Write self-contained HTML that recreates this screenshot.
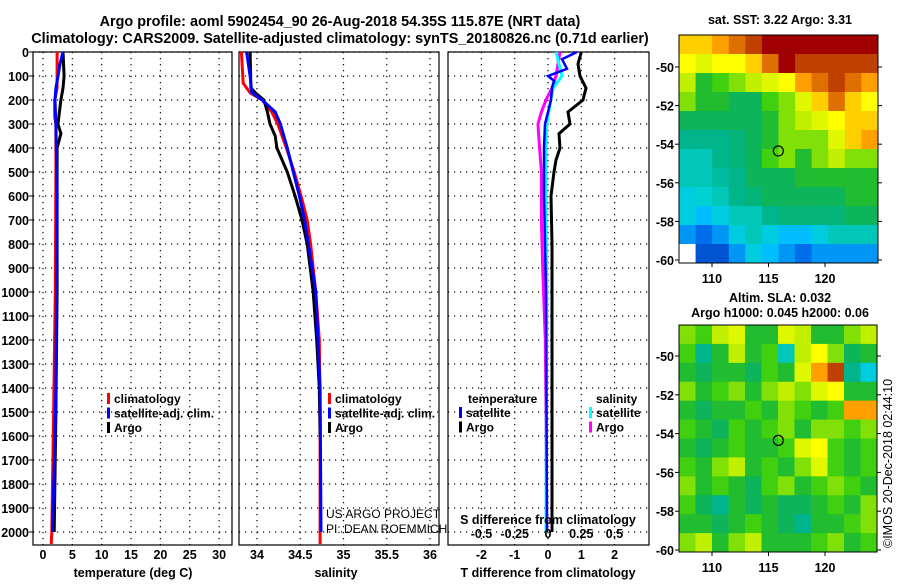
<!DOCTYPE html>
<html><head><meta charset="utf-8"><style>
body{margin:0;background:#fff;}
svg text{font-family:"Liberation Sans",sans-serif;font-weight:bold;fill:#000;}
</style></head><body>
<svg id="c" width="900" height="580" xmlns="http://www.w3.org/2000/svg">
<text x="340" y="26" font-size="14.4" text-anchor="middle">Argo profile: aoml 5902454_90 26-Aug-2018 54.35S 115.87E (NRT data)</text>
<text x="340" y="43" font-size="14.4" text-anchor="middle">Climatology: CARS2009. Satellite-adjusted climatology: synTS_20180826.nc (0.71d earlier)</text>
<text x="780" y="24" font-size="12.5" text-anchor="middle">sat. SST: 3.22 Argo: 3.31</text>
<text x="780" y="302" font-size="12.5" text-anchor="middle">Altim. SLA: 0.032</text>
<text x="780" y="317" font-size="12.5" text-anchor="middle">Argo h1000: 0.045 h2000: 0.06</text>
<text transform="translate(892,548) rotate(-90)" font-size="12.5" style="font-weight:normal">©IMOS 20-Dec-2018 02:44:10</text>
<g id="g"></g>
</svg>
<script>
// ---- depth axis
const depthTicks=[0,100,200,300,400,500,600,700,800,900,1000,1100,1200,1300,1400,1500,1600,1700,1800,1900,2000];
// ---- temperature panel
const tTicks=[0,5,10,15,20,25,30];
const tClimDepth=[0,150,200,270,300,500,1000,1500,2000,2050];
const tClim=[2.4,2.4,2.0,2.0,2.2,2.2,2.1,1.8,1.5,1.4];
const tSatDepth=[0,50,100,150,200,300,600,1000,1400,1700,2000];
const tSat=[3.4,2.9,2.55,2.2,2.05,2.2,2.4,2.3,2.2,1.95,1.6];
const tArgoDepth=[0,100,150,200,300,340,400,600,1000,1500,2000];
const tArgo=[3.4,3.6,3.4,3.05,2.55,3.05,2.4,2.4,2.4,2.2,1.9];
// ---- salinity panel
const sTicks=[34,34.5,35,35.5,36];
const sClimDepth=[0,130,170,200,250,300,400,500,600,700,800,1000,1200,1500,2050];
const sClim=[33.82,33.84,33.92,34.06,34.17,34.24,34.34,34.43,34.51,34.58,34.62,34.68,34.72,34.73,34.73];
const sSatDepth=[0,100,170,200,250,300,400,500,600,700,1000,1400,2000];
const sSat=[33.88,33.92,33.94,34.06,34.21,34.27,34.35,34.42,34.49,34.55,34.68,34.73,34.74];
const sArgoDepth=[0,150,170,200,250,300,350,400,500,600,700,800,1000,1200,1400,1600];
const sArgo=[33.92,33.93,33.98,34.08,34.12,34.15,34.21,34.23,34.35,34.44,34.52,34.58,34.65,34.69,34.72,34.73];
// ---- difference panel
const dTTicks=[-2,-1,0,1,2];
const dSTicks=[-0.5,-0.25,0,0.25,0.5];
const dSTickLabels=["-0.5","-0.25","0","0.25","0.5"];
const dTArgoDepth=[0,50,100,150,200,250,300,340,400,450,500,600,800,1000,1600,2000];
const dTArgo=[1.0,0.9,0.96,1.14,1.05,0.6,0.66,0.33,0.36,0.24,0.18,0.09,0.12,0.12,0.12,0.12];
const dTSatDepth=[0,30,70,100,120,150,200,300,400,600,800,1000,2000];
const dTSat=[0.87,0.42,0.57,0,0.18,0.12,0.09,-0.09,-0.12,-0.12,-0.09,-0.06,-0.03];
const dSSatDepth=[0,100,150,200,300,400,600,1000,2000];
const dSSat=[0.06,0.105,0.04,0.02,-0.01,-0.015,-0.015,-0.01,-0.015];
const dSArgoDepth=[0,100,150,200,250,300,350,500,700,900,1200,1500,2000];
const dSArgo=[0.09,0.06,0.03,-0.015,-0.05,-0.075,-0.07,-0.05,-0.05,-0.04,-0.02,-0.015,-0.01];
// ---- maps
const lonTicks=[110,115,120];
const latTicks=[-50,-52,-54,-56,-58,-60];
const sstGrid=[
[.8,.8,.85,.9,.95,1,1,1,1,1,1,1],
[.75,.7,.75,.75,.8,.9,1,.95,.95,.95,.95,.95],
[.65,.5,.55,.6,.65,.7,.75,.85,.9,.95,.9,.85],
[.6,.5,.5,.45,.45,.55,.6,.7,.8,.9,.8,.75],
[.45,.45,.45,.45,.45,.5,.6,.65,.7,.75,.8,.8],
[.4,.4,.4,.42,.45,.5,.6,.6,.6,.7,.8,.85],
[.35,.35,.4,.42,.45,.55,.6,.5,.6,.65,.6,.6],
[.35,.35,.38,.4,.45,.45,.45,.5,.5,.5,.5,.5],
[.3,.32,.35,.4,.42,.45,.45,.45,.45,.45,.5,.5],
[.3,.25,.3,.35,.35,.4,.42,.42,.42,.42,.45,.45],
[.2,.15,.2,.3,.35,.3,.25,.25,.3,.35,.35,.35],
[-1,.1,.1,.2,.3,.25,.2,.15,.2,.2,.2,.2]];
const slaGrid=[
[.6,.55,.65,.7,.5,.5,.7,.65,.5,.5,.6,.65],
[.55,.4,.5,.65,.5,.55,.35,.65,.75,.6,.45,.5],
[.5,.45,.5,.5,.45,.55,.5,.7,.85,.95,.4,.3],
[.6,.5,.55,.6,.5,.6,.65,.6,.7,.75,.5,.5],
[.5,.45,.5,.5,.55,.5,.6,.55,.5,.55,.85,.85],
[.55,.5,.45,.55,.5,.55,.6,.5,.6,.6,.55,.6],
[.5,.45,.5,.55,.5,.5,.55,.7,.75,.55,.5,.55],
[.55,.5,.6,.65,.5,.55,.5,.6,.7,.55,.5,.55],
[.6,.5,.55,.5,.45,.55,.6,.5,.55,.6,.55,.5],
[.55,.45,.4,.5,.45,.5,.45,.45,.5,.55,.5,.6],
[.5,.5,.45,.5,.55,.5,.45,.4,.5,.5,.55,.6],
[.6,.65,.5,.6,.65,.5,.5,.5,.55,.6,.5,.55]];
const floatLon=115.87, floatLat=-54.35;

const NS="http://www.w3.org/2000/svg";
const G=document.getElementById('g');
function el(t,a,p){const e=document.createElementNS(NS,t);for(const k in a)e.setAttribute(k,a[k]);(p||G).appendChild(e);return e;}
const yD=d=>52+d*0.24;
const PT={l:33,r:232}, PS={l:239,r:439}, PD={l:448,r:649};
const xT=v=>43+v*5.87, xS=v=>257+(v-34)*86.5, xDT=v=>548+v*33.3, xDS=v=>548+v*133;
const TOP=52,BOT=545;

function panel(P,name,vx,vt){
  const g=el('g',{});
  
  
  depthTicks.forEach(d=>{const l=el('line',{x1:P.l,x2:P.r,y1:yD(d),y2:yD(d),stroke:'#000','stroke-width':1.2,'stroke-dasharray':'1.2 4.8'},g);
    });
  vt.forEach(v=>{const l=el('line',{x1:vx(v),x2:vx(v),y1:TOP,y2:BOT,stroke:'#000','stroke-width':1.2,'stroke-dasharray':'1.2 4.8'},g);
    });
  const r=el('rect',{x:P.l,y:TOP,width:P.r-P.l,height:BOT-TOP,fill:'none',stroke:'#000','stroke-width':1.2},g);
  
  return g;
}
function line(xs,ds,fx,col,w,g,name){
  const p=xs.map((v,i)=>fx(v).toFixed(1)+','+yD(ds[i]).toFixed(1)).join(' ');
  const l=el('polyline',{points:p,fill:'none',stroke:col,'stroke-width':w,'stroke-linejoin':'miter'},g);
  
}
function txt(x,y,s,a,g,name,size){const t=el('text',{x:x,y:y,'font-size':size||12.5,'text-anchor':a||'start'},g);t.textContent=s;
  return t;}
function legend(x,y,items,g){items.forEach((it,i)=>{
  const r=el('rect',{x:x,y:y+i*14.5-10,width:3,height:11,fill:it[1]},g);
  
  txt(x+7,y+i*14.5,it[0],'start',g,'legend-entry',12);});}

depthTicks.forEach(d=>{txt(29,yD(d)+5,String(d),'end',G,'depth-tick-label');
  const l=el('line',{x1:29,x2:33,y1:yD(d),y2:yD(d),stroke:'#000'});});

const g1=panel(PT,'temperature-panel',xT,tTicks);
line(tClim,tClimDepth,xT,'#f00',3,g1,'temp-climatology-line');
line(tArgo,tArgoDepth,xT,'#000',3,g1,'temp-argo-line');
line(tSat,tSatDepth,xT,'#00f',3,g1,'temp-satellite-line');
tTicks.forEach(v=>txt(xT(v),559,String(v),'middle',g1,'temp-tick-label'));
txt(133,577,'temperature (deg C)','middle',g1,'temp-axis-title');
legend(107,403,[['climatology','#f00'],['satellite-adj. clim.','#00f'],['Argo','#000']],g1);

const g2=panel(PS,'salinity-panel',xS,sTicks);
line(sClim,sClimDepth,xS,'#f00',3,g2,'sal-climatology-line');
line(sArgo,sArgoDepth,xS,'#000',3,g2,'sal-argo-line');
line(sSat,sSatDepth,xS,'#00f',3,g2,'sal-satellite-line');
sTicks.forEach(v=>txt(xS(v),559,String(v),'middle',g2,'sal-tick-label'));
txt(336,577,'salinity','middle',g2,'sal-axis-title');
legend(328,403,[['climatology','#f00'],['satellite-adj. clim.','#00f'],['Argo','#000']],g2);
const c1=txt(326,518,'US ARGO PROJECT','start',g2,'credit-project',12);c1.style.fontWeight='normal';
const c2=txt(326,533,'PI: DEAN ROEMMICH','start',g2,'credit-pi',12);c2.style.fontWeight='normal';

const g3=panel(PD,'difference-panel',xDT,dTTicks);
line(dTArgo,dTArgoDepth,xDT,'#000',3,g3,'dt-argo-line');
line(dSArgo,dSArgoDepth,xDS,'#f0f',3,g3,'ds-argo-line');
line(dSSat,dSSatDepth,xDS,'#0ff',3,g3,'ds-satellite-line');
line(dTSat,dTSatDepth,xDT,'#00f',2.5,g3,'dt-satellite-line');
dTTicks.forEach(v=>txt(xDT(v),559,String(v),'middle',g3,'dt-tick-label'));
dSTicks.forEach((v,i)=>txt(xDS(v),538,dSTickLabels[i],'middle',g3,'ds-tick-label'));
txt(548,524,'S difference from climatology','middle',g3,'ds-axis-title');
txt(548,577,'T difference from climatology','middle',g3,'dt-axis-title');
txt(468,403,'temperature','start',g3,'legend-temperature-heading',12);
txt(596,403,'salinity','start',g3,'legend-salinity-heading',12);
legend(459,417,[['satellite','#00f'],['Argo','#000']],g3);
legend(589,417,[['satellite','#0ff'],['Argo','#f0f']],g3);

const stops=[[0,[0,32,160]],[.15,[0,110,235]],[.25,[0,190,255]],[.32,[0,210,210]],[.4,[0,180,140]],[.48,[20,180,60]],[.55,[64,208,16]],[.65,[192,240,0]],[.75,[255,255,0]],[.85,[255,160,0]],[.95,[192,64,0]],[1,[160,0,0]]];
function pal(v){if(v<0)return '#fff';for(let i=1;i<stops.length;i++){if(v<=stops[i][0]){const a=stops[i-1],b=stops[i],t=(v-a[0])/(b[0]-a[0]);
  return 'rgb('+a[1].map((c,k)=>Math.round(c+(b[1][k]-c)*t)).join(',')+')';}}return 'rgb(160,0,0)';}

function map(name,grid,box,lat0,lat1){
  const g=el('g',{});
  const rows=grid.length,cols=grid[0].length,cw=(box.r-box.l)/cols,ch=(box.b-box.t)/rows;
  grid.forEach((row,i)=>row.forEach((v,j)=>{const r=el('rect',{x:box.l+j*cw,y:box.t+i*ch,width:cw+0.5,height:ch+0.5,fill:pal(v)},g);
    }));
  const fr=el('rect',{x:box.l,y:box.t,width:box.r-box.l,height:box.b-box.t,fill:'none',stroke:'#000'},g);
  
  const lx=v=>712+(v-110)*11.3, ly=v=>lat0+(-50-v)*(lat1-lat0)/10;
  latTicks.forEach(v=>{txt(box.l-5,ly(v)+5,String(v),'end',g,'lat-tick-label');
    const t=el('line',{x1:box.l-4,x2:box.l,y1:ly(v),y2:ly(v),stroke:'#000'},g);
    const t2=el('line',{x1:box.r,x2:box.r+4,y1:ly(v),y2:ly(v),stroke:'#000'},g);});
  lonTicks.forEach(v=>{txt(lx(v),box.b+20,String(v),'middle',g,'lon-tick-label');
    const t=el('line',{x1:lx(v),x2:lx(v),y1:box.b,y2:box.b+4,stroke:'#000'},g);});
  const c=el('circle',{cx:lx(floatLon),cy:ly(floatLat),r:5,fill:'none',stroke:'#000','stroke-width':1.2},g);
  
}
map('sst-map',sstGrid,{l:679,r:878,t:35,b:263},67,260);
map('sla-map',slaGrid,{l:679,r:877,t:325,b:552},356,550);
</script>
</body></html>
